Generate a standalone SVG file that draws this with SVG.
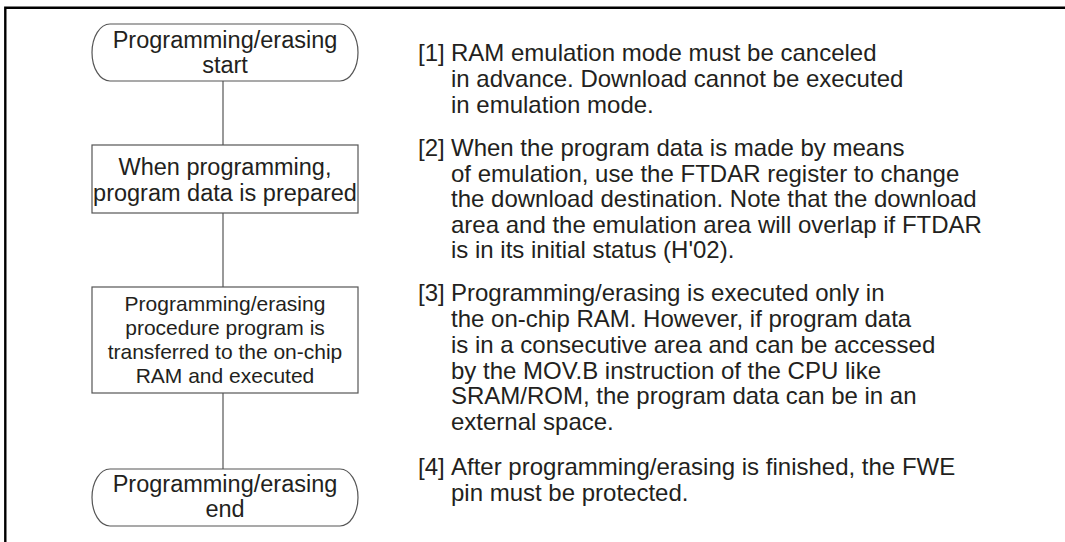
<svg xmlns="http://www.w3.org/2000/svg" width="1065" height="542" viewBox="0 0 1065 542">
<style>
.frame{fill:none;stroke:#000;stroke-width:2.4}
.shape{fill:#fff;stroke:#555;stroke-width:1.2}
.conn{stroke:#555;stroke-width:1.2;fill:none}
text{font-family:"Liberation Sans",Arial,sans-serif;fill:#231f20}
.t{font-size:23.5px;text-anchor:middle}
.t2{font-size:21px;text-anchor:middle}
.n{font-size:24px}
</style>
<rect width="1065" height="542" fill="#fff"/>
<path class="frame" d="M5.3,542 V7.8 H1065"/>
<g id="connectors">
<line class="conn" x1="223" y1="81" x2="223" y2="145"/>
<line class="conn" x1="223" y1="213" x2="223" y2="287"/>
<line class="conn" x1="223" y1="393" x2="223" y2="469"/>
</g>
<g id="start">
<rect class="shape" x="92" y="24" width="266" height="57" rx="18" ry="28.5"/>
<text class="t" x="225" y="48">Programming/erasing</text>
<text class="t" x="225" y="73">start</text>
</g>
<g id="prepare">
<rect class="shape" x="92" y="145" width="266" height="68"/>
<text class="t" x="225" y="175">When programming,</text>
<text class="t" x="225" y="200.5">program data is prepared</text>
</g>
<g id="transfer">
<rect class="shape" x="92" y="287" width="266" height="106"/>
<text class="t2" x="225" y="311">Programming/erasing</text>
<text class="t2" x="225" y="335">procedure program is</text>
<text class="t2" x="225" y="358.5">transferred to the on-chip</text>
<text class="t2" x="225" y="382.5">RAM and executed</text>
</g>
<g id="end">
<rect class="shape" x="92" y="469" width="266" height="57" rx="18" ry="28.5"/>
<text class="t" x="225" y="492">Programming/erasing</text>
<text class="t" x="225" y="517">end</text>
</g>
<g id="notes" class="n">
<text x="418" y="61">[1]</text>
<text x="451" y="61">RAM emulation mode must be canceled</text>
<text x="451" y="87">in advance. Download cannot be executed</text>
<text x="451" y="113">in emulation mode.</text>
<text x="418" y="156">[2]</text>
<text x="451" y="156">When the program data is made by means</text>
<text x="451" y="181.5">of emulation, use the FTDAR register to change</text>
<text x="451" y="207">the download destination. Note that the download</text>
<text x="451" y="232.5">area and the emulation area will overlap if FTDAR</text>
<text x="451" y="258">is in its initial status (H'02).</text>
<text x="418" y="301">[3]</text>
<text x="451" y="301">Programming/erasing is executed only in</text>
<text x="451" y="327">the on-chip RAM. However, if program data</text>
<text x="451" y="353">is in a consecutive area and can be accessed</text>
<text x="451" y="378.5">by the MOV.B instruction of the CPU like</text>
<text x="451" y="404">SRAM/ROM, the program data can be in an</text>
<text x="451" y="430">external space.</text>
<text x="418" y="475">[4]</text>
<text x="451" y="475">After programming/erasing is finished, the FWE</text>
<text x="451" y="500.5">pin must be protected.</text>
</g>
</svg>
